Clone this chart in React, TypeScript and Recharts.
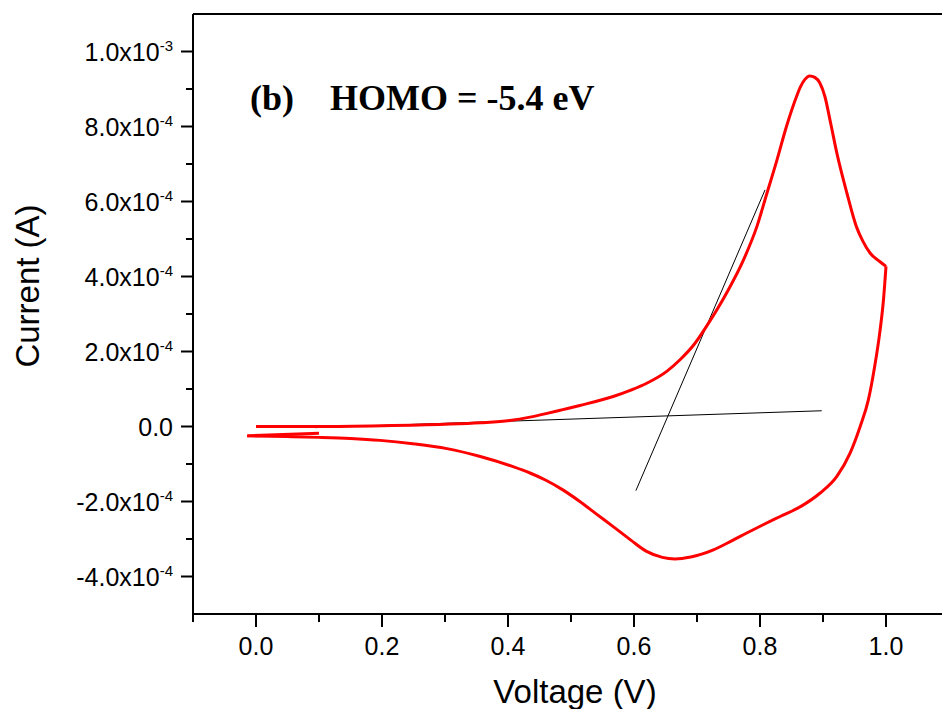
import React from 'react';
import { LineChart, Line, XAxis, YAxis, ReferenceLine, Customized } from 'recharts';

// cyclic voltammogram, current in units of 1e-4 A
// short tail at the start of the scan (drawn back from 0.1 V to the turning point)
const tailV = [0.1, -0.014];
const tailI = [-0.18, -0.25];

// reverse (cathodic) branch, left to right up to the 1.0 V vertex
const lowerV = [
  -0.014, 0.05, 0.1, 0.15, 0.197, 0.249, 0.303, 0.356, 0.408, 0.435, 0.461, 0.487, 0.514, 0.54, 0.567,
  0.595, 0.62, 0.645, 0.665, 0.69, 0.726, 0.755, 0.779, 0.805, 0.832, 0.865, 0.895, 0.922, 0.943,
  0.959, 0.972, 0.982, 0.99, 0.996, 1.0,
];
const lowerI = [
  -0.25, -0.27, -0.29, -0.32, -0.37, -0.46, -0.59, -0.8, -1.07, -1.24, -1.44, -1.69, -2.0, -2.33, -2.67,
  -3.03, -3.33, -3.49, -3.53, -3.48, -3.29, -3.05, -2.84, -2.62, -2.4, -2.13, -1.78, -1.33, -0.71,
  0, 0.71, 1.6, 2.49, 3.38, 4.27,
];

// forward (anodic) branch, from the vertex back to 0 V
const upperV = [
  1.0, 0.99, 0.975, 0.963, 0.953, 0.938, 0.922, 0.912, 0.903, 0.895, 0.887, 0.879, 0.871, 0.864, 0.858,
  0.842, 0.827, 0.811, 0.795, 0.774, 0.747, 0.715, 0.695, 0.673, 0.652, 0.621, 0.595, 0.567, 0.514,
  0.487, 0.462, 0.435, 0.403, 0.356, 0.3, 0.2, 0.1, 0,
];
const upperI = [
  4.27, 4.4, 4.62, 4.95, 5.33, 6.22, 7.29, 8.1, 8.8, 9.16, 9.31, 9.35, 9.25, 9.05, 8.8,
  8.0, 7.11, 6.22, 5.33, 4.45, 3.56, 2.67, 2.18, 1.78, 1.47, 1.16, 0.97, 0.8, 0.56,
  0.45, 0.35, 0.25, 0.16, 0.1, 0.06, 0.02, 0.0, 0,
];

// onset construction lines
const baselineV = [0.094, 0.898];
const baselineI = [-0.03, 0.42];
const tangentV = [0.603, 0.808];
const tangentI = [-1.71, 6.31];

const xTicks = [-0.1, 0, 0.1, 0.2, 0.3, 0.4, 0.5, 0.6, 0.7, 0.8, 0.9, 1.0];
const xTickLabels: Record<string, string> = {
  '0': '0.0', '0.2': '0.2', '0.4': '0.4', '0.6': '0.6', '0.8': '0.8', '1': '1.0',
};
const yTicks = [-4, -3, -2, -1, 0, 1, 2, 3, 4, 5, 6, 7, 8, 9, 10];
const yTickLabels: Record<string, [string, string]> = {
  '-4': ['-4.0x10', '-4'],
  '-2': ['-2.0x10', '-4'],
  '0': ['0.0', ''],
  '2': ['2.0x10', '-4'],
  '4': ['4.0x10', '-4'],
  '6': ['6.0x10', '-4'],
  '8': ['8.0x10', '-4'],
  '10': ['1.0x10', '-3'],
};

const X_DOMAIN = [-0.1, 1.1];
const Y_DOMAIN = [-5, 11];

const CHART_W = 949;
const CHART_H = 709;
const MARGIN = { top: 14, right: 0, left: 0, bottom: 0 };
const Y_AXIS_W = 193;
const X_AXIS_H = 95;
const PLOT_LEFT = MARGIN.left + Y_AXIS_W;
const PLOT_BOTTOM = CHART_H - MARGIN.bottom - X_AXIS_H;

const sans = '"Liberation Sans", Arial, sans-serif';
const serif = '"Liberation Serif", "Times New Roman", serif';

const toPoints = (vs: number[], is: number[]) => vs.map((v, k) => ({ v, i: is[k] }));
const tailData = toPoints(tailV, tailI);
const lowerData = toPoints(lowerV, lowerI);
const upperData = toPoints(upperV, upperI);
const baselineData = toPoints(baselineV, baselineI);
const tangentData = toPoints(tangentV, tangentI);

const YTick = (props: any) => {
  const { payload } = props;
  const y = payload.coordinate;
  const label = yTickLabels[String(payload.value)];
  const len = label ? 12 : 7;
  return (
    <g>
      <line x1={PLOT_LEFT - len} x2={PLOT_LEFT} y1={y} y2={y} stroke="#000" strokeWidth={2} />
      {label && (
        <text x={PLOT_LEFT - 20} y={y + 9} textAnchor="end" fontFamily={sans} fontSize={25} fill="#000">
          <tspan>{label[0]}</tspan>
          {label[1] && (
            <tspan dy={-10} fontSize={15}>
              {label[1]}
            </tspan>
          )}
        </text>
      )}
    </g>
  );
};

const XTick = (props: any) => {
  const { payload } = props;
  const x = payload.coordinate;
  const label = xTickLabels[String(payload.value)];
  const len = label ? 13 : 8;
  return (
    <g>
      <line x1={x} x2={x} y1={PLOT_BOTTOM} y2={PLOT_BOTTOM + len} stroke="#000" strokeWidth={2} />
      {label && (
        <text x={x} y={PLOT_BOTTOM + 41} textAnchor="middle" fontFamily={sans} fontSize={25} fill="#000">
          {label}
        </text>
      )}
    </g>
  );
};

const Annotations = () => (
  <g>
    <text x={250} y={110} fontFamily={serif} fontWeight="bold" fontSize={36} fill="#000">
      (b)
    </text>
    <text x={330} y={110} fontFamily={serif} fontWeight="bold" fontSize={36} fill="#000">
      HOMO = -5.4 eV
    </text>
    <text
      transform="translate(39,286) rotate(-90)"
      textAnchor="middle"
      fontFamily={sans}
      fontSize={33}
      fill="#000"
    >
      Current (A)
    </text>
    <text x={575} y={703} textAnchor="middle" fontFamily={sans} fontSize={33} fill="#000">
      Voltage (V)
    </text>
  </g>
);

const redLine = {
  dataKey: 'i',
  stroke: '#ff0000',
  strokeWidth: 3,
  strokeLinejoin: 'round' as const,
  dot: false,
  activeDot: false,
  isAnimationActive: false,
};

export default function App() {
  return (
    <div
      style={{
        position: 'absolute',
        left: 0,
        top: 0,
        width: 942,
        height: 709,
        overflow: 'hidden',
        background: '#fff',
      }}
    >
      <LineChart width={CHART_W} height={CHART_H} margin={MARGIN}>
        <XAxis
          type="number"
          dataKey="v"
          domain={X_DOMAIN}
          ticks={xTicks}
          interval={0}
          allowDataOverflow
          height={X_AXIS_H}
          axisLine={{ stroke: '#000', strokeWidth: 2 }}
          tickLine={false}
          tick={<XTick />}
        />
        <YAxis
          type="number"
          dataKey="i"
          domain={Y_DOMAIN}
          ticks={yTicks}
          interval={0}
          allowDataOverflow
          width={Y_AXIS_W}
          axisLine={{ stroke: '#000', strokeWidth: 2 }}
          tickLine={false}
          tick={<YTick />}
        />
        <ReferenceLine y={Y_DOMAIN[1]} stroke="#000" strokeWidth={2} />
        <Line
          data={baselineData}
          dataKey="i"
          type="linear"
          stroke="#000"
          strokeWidth={1}
          dot={false}
          activeDot={false}
          isAnimationActive={false}
        />
        <Line
          data={tangentData}
          dataKey="i"
          type="linear"
          stroke="#000"
          strokeWidth={1}
          dot={false}
          activeDot={false}
          isAnimationActive={false}
        />
        <Line data={tailData} type="linear" {...redLine} />
        <Line data={lowerData} type="monotone" {...redLine} />
        <Line data={upperData} type="monotone" {...redLine} />
        <Customized component={Annotations} />
      </LineChart>
    </div>
  );
}
